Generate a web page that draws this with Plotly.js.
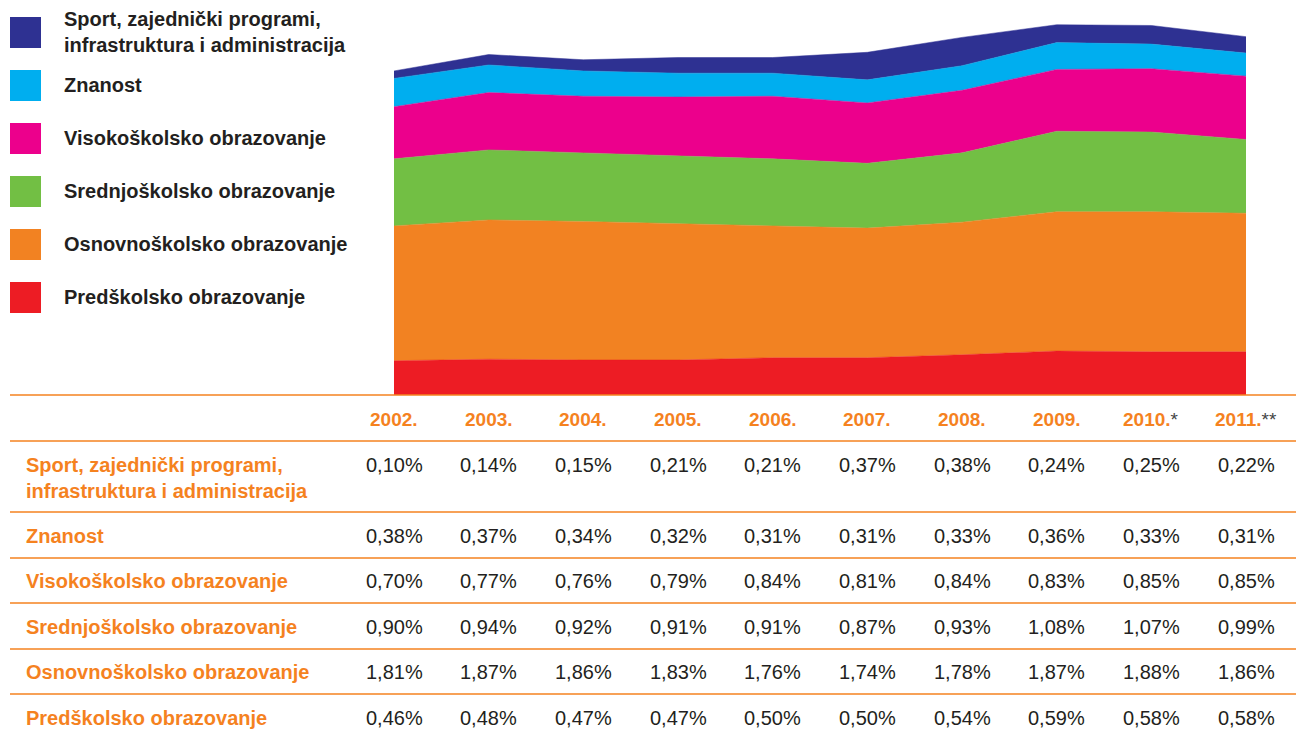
<!DOCTYPE html>
<html>
<head>
<meta charset="utf-8">
<script src="https://cdn.plot.ly/plotly-3.0.1.min.js"></script>
<style>html,body{margin:0;padding:0;background:#fff;}#chart{width:1301px;height:733px;}</style>
</head>
<body>
<div id="chart"></div>
<script>
// ---- data ----
const years = [2002, 2003, 2004, 2005, 2006, 2007, 2008, 2009, 2010, 2011];
const yearLabels = ['2002.', '2003.', '2004.', '2005.', '2006.', '2007.', '2008.', '2009.', '2010.', '2011.'];
const yearMarks = ['', '', '', '', '', '', '', '', '*', '**'];
const seriesNames = [
  'Sport, zajednički programi,<br>infrastruktura i administracija',
  'Znanost',
  'Visokoškolsko obrazovanje',
  'Srednjoškolsko obrazovanje',
  'Osnovnoškolsko obrazovanje',
  'Predškolsko obrazovanje'
];
const sport       = [0.10, 0.14, 0.15, 0.21, 0.21, 0.37, 0.38, 0.24, 0.25, 0.22];
const znanost     = [0.38, 0.37, 0.34, 0.32, 0.31, 0.31, 0.33, 0.36, 0.33, 0.31];
const visoko      = [0.70, 0.77, 0.76, 0.79, 0.84, 0.81, 0.84, 0.83, 0.85, 0.85];
const srednjo     = [0.90, 0.94, 0.92, 0.91, 0.91, 0.87, 0.93, 1.08, 1.07, 0.99];
const osnovno     = [1.81, 1.87, 1.86, 1.83, 1.76, 1.74, 1.78, 1.87, 1.88, 1.86];
const predskolsko = [0.46, 0.48, 0.47, 0.47, 0.50, 0.50, 0.54, 0.59, 0.58, 0.58];
const seriesColors = ['#2e3192', '#00aeef', '#ec008c', '#72bf44', '#f28222', '#ed1c24'];

// ---- layout helpers (pixels -> paper) ----
const W = 1301, H = 733;
const M = {l: 394, r: 55, t: 20, b: 338};
const PW = W - M.l - M.r, PH = H - M.t - M.b;
const px = x => (x - M.l) / PW;
const py = y => (H - M.b - y) / PH;

const tableSeries = [sport, znanost, visoko, srednjo, osnovno, predskolsko];
const ORANGE = '#f5821f';
const DARK = '#231f20';
const FONT = 'Liberation Sans, Arial, sans-serif';

// traces: stacked bottom-up
const traces = [];
for (let i = tableSeries.length - 1; i >= 0; i--) {
  traces.push({
    x: years, y: tableSeries[i], name: seriesNames[i],
    type: 'scatter', mode: 'lines', stackgroup: 'one',
    line: {color: seriesColors[i], width: 0.5, shape: 'linear'},
    fillcolor: seriesColors[i], hoverinfo: 'skip', showlegend: false
  });
}

const annotations = [];
const shapes = [];

// legend
const legendSquareTop = [17, 70, 123, 176, 229, 282];
const legendTextY = [31.7, 85, 137.7, 191, 244.3, 296.7];
seriesNames.forEach((n, i) => {
  shapes.push({type: 'rect', xref: 'paper', yref: 'paper',
    x0: px(10), x1: px(41), y0: py(legendSquareTop[i]), y1: py(legendSquareTop[i] + 31),
    fillcolor: seriesColors[i], line: {width: 0}});
  annotations.push({xref: 'paper', yref: 'paper', x: px(62), y: py(legendTextY[i]),
    xanchor: 'left', yanchor: 'middle', align: 'left', showarrow: false, text: n,
    font: {family: FONT, size: 20, color: DARK, weight: 700}});
});

// table rules
[395, 441, 512, 558, 603, 649, 694].forEach(y => {
  shapes.push({type: 'line', xref: 'paper', yref: 'paper',
    x0: px(10), x1: px(1296), y0: py(y), y1: py(y),
    line: {color: ORANGE, width: 1.5}});
});

// header
years.forEach((yr, j) => {
  const mark = yearMarks[j] ? '<span style="color:#444;font-weight:400">' + yearMarks[j] + '</span>' : '';
  annotations.push({xref: 'x', yref: 'paper', x: yr, y: py(419), xanchor: 'center', yanchor: 'middle',
    showarrow: false, text: '<b>' + yearLabels[j] + '</b>' + mark,
    font: {family: FONT, size: 19, color: ORANGE}});
});

// rows
const rowLabelY = [478.5, 536, 581, 627, 672, 718];
const rowValueY = [465, 536, 581, 627, 672, 718];
tableSeries.forEach((vals, i) => {
  annotations.push({xref: 'paper', yref: 'paper', x: px(24), y: py(rowLabelY[i]),
    xanchor: 'left', yanchor: 'middle', align: 'left', showarrow: false, text: seriesNames[i],
    font: {family: FONT, size: 20, color: ORANGE, weight: 700}});
  vals.forEach((v, j) => {
    annotations.push({xref: 'x', yref: 'paper', x: years[j], y: py(rowValueY[i]),
      xanchor: 'center', yanchor: 'middle', showarrow: false,
      text: v.toFixed(2).replace('.', ',') + '%',
      font: {family: FONT, size: 20, color: DARK}});
  });
});

const layout = {
  width: W, height: H, margin: M,
  paper_bgcolor: '#fff', plot_bgcolor: '#fff',
  showlegend: false,
  xaxis: {range: [2002, 2011], visible: false, fixedrange: true},
  yaxis: {range: [0, PH / 74.5], visible: false, fixedrange: true},
  annotations: annotations, shapes: shapes
};
Plotly.newPlot('chart', traces, layout, {displayModeBar: false, staticPlot: true});
</script>
</body>
</html>
